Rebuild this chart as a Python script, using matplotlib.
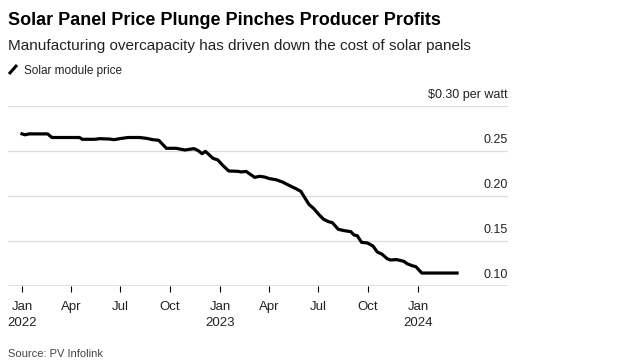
import numpy as np
import pandas as pd
import matplotlib
matplotlib.use('Agg')
import matplotlib.pyplot as plt
import matplotlib.dates as mdates
from matplotlib.lines import Line2D

# ── Data ─────────────────────────────────────────────────────────────────────
dates = [
    '2021-12-29', '2022-01-06', '2022-01-14', '2022-02-17', '2022-02-25',
    '2022-04-17', '2022-04-22', '2022-05-15', '2022-05-24', '2022-06-11',
    '2022-06-20', '2022-06-30', '2022-07-15', '2022-08-06', '2022-08-18',
    '2022-08-30', '2022-09-10', '2022-09-24', '2022-10-12', '2022-10-28',
    '2022-11-14', '2022-11-21', '2022-11-29', '2022-12-05', '2022-12-19',
    '2022-12-28', '2023-01-06', '2023-01-17', '2023-02-03', '2023-02-09',
    '2023-02-18', '2023-02-24', '2023-03-06', '2023-03-15', '2023-03-24',
    '2023-04-02', '2023-04-14', '2023-04-26', '2023-05-08', '2023-05-21',
    '2023-05-30', '2023-06-05', '2023-06-14', '2023-06-23', '2023-07-02',
    '2023-07-11', '2023-07-20', '2023-07-27', '2023-08-07', '2023-08-18',
    '2023-08-30', '2023-09-05', '2023-09-11', '2023-09-19', '2023-09-30',
    '2023-10-10', '2023-10-18', '2023-10-27', '2023-11-05', '2023-11-11',
    '2023-11-23', '2023-12-06', '2023-12-12', '2023-12-21', '2023-12-28',
    '2024-01-08', '2024-03-16',
]
price = [
    0.2696, 0.2680, 0.2690, 0.2690, 0.2650,
    0.2650, 0.2630, 0.2630, 0.2637, 0.2633,
    0.2626, 0.2637, 0.2650, 0.2650, 0.2641,
    0.2626, 0.2619, 0.2530, 0.2530, 0.2511,
    0.2526, 0.2507, 0.2470, 0.2496, 0.2419,
    0.2400, 0.2341, 0.2278, 0.2274, 0.2267,
    0.2274, 0.2248, 0.2207, 0.2219, 0.2211,
    0.2193, 0.2181, 0.2156, 0.2119, 0.2081,
    0.2052, 0.1993, 0.1907, 0.1859, 0.1796,
    0.1741, 0.1715, 0.1704, 0.1630, 0.1615,
    0.1604, 0.1567, 0.1559, 0.1485, 0.1478,
    0.1444, 0.1378, 0.1352, 0.1304, 0.1289,
    0.1293, 0.1274, 0.1248, 0.1226, 0.1215,
    0.1144, 0.1144,
]
y_ticks = [0.10, 0.15, 0.20, 0.25, 0.30]
y_labels = ['0.10', '0.15', '0.20', '0.25', '$0.30 per watt']
x_ticks = ['2022-01-01', '2022-04-01', '2022-07-01', '2022-10-01',
           '2023-01-01', '2023-04-01', '2023-07-01', '2023-10-01',
           '2024-01-01']
x_labels = ['Jan\n2022', 'Apr', 'Jul', 'Oct', 'Jan\n2023', 'Apr', 'Jul',
            'Oct', 'Jan\n2024']

TITLE = 'Solar Panel Price Plunge Pinches Producer Profits'
SUBTITLE = 'Manufacturing overcapacity has driven down the cost of solar panels'
SERIES = 'Solar module price'
SOURCE = 'Source: PV Infolink'

# ── Style ────────────────────────────────────────────────────────────────────
plt.rcParams['font.family'] = ['Liberation Sans', 'DejaVu Sans']
W, H = 643, 362
fig = plt.figure(figsize=(W / 100, H / 100), dpi=100)
fig.patch.set_facecolor('white')

def fy(px):
    return 1 - px / H

ax = fig.add_axes([8 / W, fy(286), 500 / W, (286 - 106) / H])

x = pd.to_datetime(dates)
ax.plot(x, price, color='black', linewidth=2.3, solid_joinstyle='round',
        solid_capstyle='butt', zorder=3)

ax.set_ylim(0.10, 0.30)
ax.set_xlim(pd.Timestamp('2021-12-06'), pd.Timestamp('2024-06-15'))

for v in y_ticks[1:]:
    ax.axhline(v, color='#dcdcdc', linewidth=0.9, zorder=1)
ax.axhline(0.10, color='black', linewidth=0.9, zorder=2)

for v, lab in zip(y_ticks, y_labels):
    ax.annotate(lab, xy=(1, v), xycoords=('axes fraction', 'data'),
                xytext=(0, 5.5), textcoords='offset points',
                ha='right', va='baseline', fontsize=9, color='#222222')

ax.set_yticks([])
ax.set_xticks(pd.to_datetime(x_ticks))
ax.set_xticklabels(x_labels, fontsize=9.5, color='#222222',
                   linespacing=1.45)
ax.tick_params(axis='x', direction='out', length=4.5, width=0.8,
               color='black', pad=6)
for s in ax.spines.values():
    s.set_visible(False)
ax.patch.set_alpha(0)

# ── Header / footer ─────────────────────────────────────────────────────────
fig.text(8 / W, fy(25), TITLE, fontsize=13, fontweight='bold',
         color='black', va='baseline')
fig.text(8 / W, fy(50), SUBTITLE, fontsize=11, color='#222222',
         va='baseline')
fig.add_artist(Line2D([9 / W, 17 / W], [fy(74), fy(65)], color='black',
                      linewidth=2.2, solid_capstyle='butt'))
fig.text(24 / W, fy(74), SERIES, fontsize=8.5, color='#222222',
         va='baseline')
fig.text(8 / W, fy(357), SOURCE, fontsize=8, color='#444444',
         va='baseline')

fig.savefig('out.png', dpi=100, facecolor='white')
